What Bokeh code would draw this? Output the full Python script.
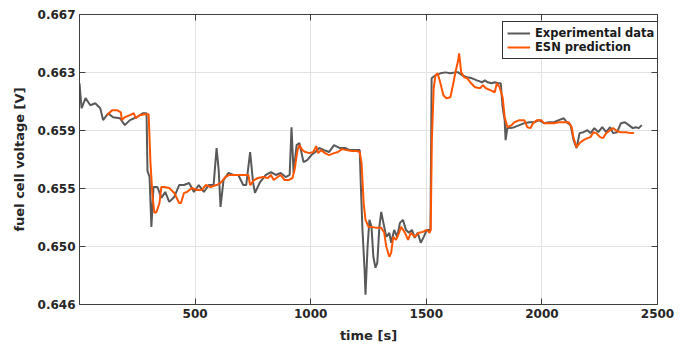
from bokeh.plotting import figure
from bokeh.models import (LinearAxis, FixedTicker, Legend, LegendItem, Range1d,
                          CustomLabelingPolicy)
from bokeh.embed import file_html
from bokeh.resources import INLINE

# ---- data ----
exp_t = [0, 9, 26, 47, 68, 90, 102, 124, 145, 175, 196, 218, 247, 273, 290,
         294, 303, 311, 320, 337, 354, 371, 388, 410, 431, 452, 474, 495, 516, 538,
         559, 580, 593, 602, 610, 623, 644, 666, 687, 708, 721, 738, 751, 759, 781,
         806, 828, 849, 870, 892, 909, 917, 926, 939, 951, 969, 985, 1003, 1020, 1037,
         1058, 1079, 1101, 1126, 1148, 1169, 1190, 1207, 1212, 1216, 1224, 1233, 1237, 1246, 1254,
         1263, 1271, 1280, 1288, 1297, 1305, 1318, 1327, 1340, 1348, 1361, 1374, 1386, 1399, 1412,
         1425, 1438, 1450, 1463, 1476, 1489, 1502, 1514, 1518, 1523, 1540, 1561, 1583, 1604, 1625,
         1638, 1655, 1677, 1698, 1719, 1741, 1753, 1766, 1783, 1796, 1809, 1822, 1830, 1839, 1843,
         1851, 1864, 1881, 1903, 1924, 1945, 1967, 1988, 2009, 2031, 2052, 2073, 2095, 2107, 2124,
         2137, 2150, 2163, 2180, 2197, 2210, 2227, 2244, 2261, 2278, 2295, 2308, 2325, 2342, 2359,
         2376, 2393, 2406, 2419, 2432]
exp_v = [0.66202, 0.66021, 0.66094, 0.66043, 0.66057, 0.66021, 0.65935, 0.65985, 0.65956, 0.65949,
         0.65899, 0.65935, 0.65956, 0.65985, 0.65985,
         0.65568, 0.65523, 0.65162, 0.65451, 0.65451, 0.65372, 0.65415, 0.65343, 0.65379, 0.65465,
         0.65465, 0.65480, 0.65415, 0.65465, 0.65415,
         0.65465, 0.65465, 0.65733, 0.65574, 0.65307, 0.65501, 0.65552, 0.65538, 0.65538, 0.65465,
         0.65465, 0.65704, 0.65480, 0.65408, 0.65487,
         0.65538, 0.65559, 0.65538, 0.65552, 0.65523, 0.65538, 0.65884, 0.65552, 0.65754, 0.65769,
         0.65631, 0.65646, 0.65682, 0.65704, 0.65733,
         0.65718, 0.65704, 0.65754, 0.65733, 0.65733, 0.65718, 0.65718, 0.65718, 0.65718, 0.65501,
         0.65140, 0.64852, 0.64671, 0.65018, 0.65213,
         0.65162, 0.64946, 0.64866, 0.64902, 0.65162, 0.65270, 0.65162, 0.65090, 0.65119, 0.65047,
         0.65140, 0.65090, 0.65191, 0.65213, 0.65140,
         0.65119, 0.65140, 0.65083, 0.65119, 0.65047, 0.65090, 0.65140, 0.65140, 0.65140, 0.66238,
         0.66260, 0.66274, 0.66281, 0.66274, 0.66281,
         0.66281, 0.66260, 0.66245, 0.66238, 0.66223, 0.66209, 0.66223, 0.66209, 0.66202, 0.66209,
         0.66202, 0.66202, 0.66029, 0.65935, 0.65790,
         0.65884, 0.65877, 0.65884, 0.65899, 0.65913, 0.65920, 0.65920, 0.65935, 0.65913, 0.65920,
         0.65920, 0.65935, 0.65949, 0.65920, 0.65899,
         0.65790, 0.65733, 0.65841, 0.65848, 0.65862, 0.65841, 0.65877, 0.65848, 0.65884, 0.65848,
         0.65884, 0.65841, 0.65848, 0.65913, 0.65920,
         0.65899, 0.65877, 0.65884, 0.65877, 0.65899]

esn_t = [119, 141, 162, 179, 183, 196, 218, 235, 243, 260, 282, 294, 299, 307, 316,
         324, 333, 346, 354, 367, 388, 410, 431, 439, 452, 465, 486, 508, 529, 546,
         567, 593, 610, 631, 648, 666, 700, 721, 730, 738, 755, 772, 794, 815, 828,
         840, 857, 870, 887, 904, 921, 930, 943, 951, 964, 977, 994, 1011, 1024, 1032,
         1045, 1062, 1079, 1101, 1118, 1135, 1156, 1177, 1199, 1212, 1220, 1229, 1237, 1250, 1263,
         1284, 1305, 1318, 1327, 1340, 1348, 1357, 1369, 1382, 1391, 1408, 1421, 1433, 1450, 1468,
         1485, 1502, 1514, 1519, 1524, 1532, 1540, 1549, 1561, 1574, 1587, 1604, 1617, 1625, 1638,
         1642, 1651, 1664, 1677, 1694, 1711, 1732, 1745, 1758, 1779, 1796, 1805, 1817, 1830, 1839,
         1851, 1869, 1881, 1903, 1924, 1937, 1950, 1962, 1979, 1997, 2009, 2031, 2052, 2073, 2095,
         2116, 2129, 2137, 2150, 2163, 2180, 2197, 2210, 2223, 2235, 2252, 2265, 2278, 2295, 2308,
         2325, 2342, 2363, 2385, 2398]
esn_v = [0.65971, 0.66007, 0.66007, 0.65992, 0.65935, 0.65956, 0.65971, 0.65985, 0.65949, 0.65971,
         0.65978, 0.65978, 0.65978, 0.65624, 0.65379,
         0.65263, 0.65270, 0.65335, 0.65451, 0.65451, 0.65444, 0.65408, 0.65335, 0.65335, 0.65408,
         0.65415, 0.65444, 0.65429, 0.65429, 0.65465,
         0.65451, 0.65465, 0.65480, 0.65523, 0.65538, 0.65538, 0.65538, 0.65538, 0.65538, 0.65465,
         0.65501, 0.65516, 0.65523, 0.65516, 0.65538,
         0.65501, 0.65523, 0.65538, 0.65501, 0.65501, 0.65516, 0.65574, 0.65718, 0.65754, 0.65718,
         0.65704, 0.65696, 0.65704, 0.65747, 0.65696,
         0.65718, 0.65696, 0.65682, 0.65696, 0.65704, 0.65725, 0.65718, 0.65711, 0.65711, 0.65704,
         0.65624, 0.65335, 0.65213, 0.65162, 0.65162,
         0.65155, 0.65155, 0.65119, 0.65018, 0.64946, 0.64974, 0.65090, 0.65068, 0.65119, 0.65162,
         0.65119, 0.65068, 0.65119, 0.65090, 0.65119,
         0.65126, 0.65140, 0.65119, 0.65140, 0.65790, 0.66166, 0.66260, 0.66274, 0.66202, 0.66115,
         0.66094, 0.66101, 0.66202, 0.66274, 0.66368,
         0.66418, 0.66281, 0.66245, 0.66238, 0.66202, 0.66173, 0.66166, 0.66187, 0.66166, 0.66151,
         0.66137, 0.66202, 0.66173, 0.66101, 0.65956,
         0.65884, 0.65899, 0.65920, 0.65935, 0.65935, 0.65884, 0.65877, 0.65913, 0.65935, 0.65935,
         0.65913, 0.65913, 0.65913, 0.65920, 0.65920,
         0.65920, 0.65884, 0.65805, 0.65740, 0.65769, 0.65790, 0.65805, 0.65812, 0.65848, 0.65841,
         0.65812, 0.65805, 0.65841, 0.65862, 0.65877,
         0.65855, 0.65848, 0.65848, 0.65841, 0.65841]

x_ticks = [500, 1000, 1500, 2000, 2500]
y_ticks = [0.646, 0.6502, 0.6544, 0.6586, 0.6628, 0.667]
y_tick_labels = ["0.646", "0.650", "0.655", "0.659", "0.663", "0.667"]

FONT = "DejaVu Sans"
TXT = "#262626"
AX = "#404040"

p = figure(width=688, height=345, output_backend="svg", toolbar_location=None,
           x_range=Range1d(0, 2500), y_range=Range1d(0.646, 0.667),
           min_border_left=79, min_border_right=23, min_border_top=14, min_border_bottom=40)
p.background_fill_color = "white"
p.border_fill_color = "white"
p.outline_line_color = AX
p.outline_line_width = 1

r1 = p.line(exp_t, exp_v, line_color="#595959", line_width=2.0)
r2 = p.line(esn_t, esn_v, line_color="#FF5500", line_width=2.0)

for ax in [p.xaxis[0], p.yaxis[0]]:
    ax.major_tick_in = 6
    ax.major_tick_out = 0
    ax.minor_tick_line_color = None
    ax.axis_line_color = AX
    ax.major_tick_line_color = AX
    ax.major_label_text_font = FONT
    ax.major_label_text_font_style = "bold"
    ax.major_label_text_font_size = "12px"
    ax.major_label_text_color = TXT
    ax.axis_label_text_font = FONT
    ax.axis_label_text_font_style = "bold"
    ax.axis_label_text_font_size = "13px"
    ax.axis_label_text_color = TXT

p.xaxis[0].ticker = FixedTicker(ticks=x_ticks)
p.yaxis[0].ticker = FixedTicker(ticks=y_ticks)
p.yaxis[0].major_label_overrides = {t: l for t, l in zip(y_ticks, y_tick_labels)}
p.xaxis[0].axis_label = "time [s]"
p.yaxis[0].axis_label = "fuel cell voltage [V]"
p.xaxis[0].major_label_standoff = 4
p.xaxis[0].axis_label_standoff = 7
p.yaxis[0].major_label_standoff = 4
p.yaxis[0].axis_label_standoff = 8

no_labels = "for (const i of indices) { indices.unset(i) }\nreturn indices"
top = LinearAxis(ticker=FixedTicker(ticks=x_ticks),
                 major_label_policy=CustomLabelingPolicy(code=no_labels),
                 major_tick_in=6, major_tick_out=0, minor_tick_line_color=None,
                 axis_line_color=AX, major_tick_line_color=AX, major_label_standoff=0)
right = LinearAxis(ticker=FixedTicker(ticks=y_ticks),
                   major_label_policy=CustomLabelingPolicy(code=no_labels),
                   major_tick_in=6, major_tick_out=0, minor_tick_line_color=None,
                   axis_line_color=AX, major_tick_line_color=AX, major_label_standoff=0)
p.add_layout(top, "above")
p.add_layout(right, "right")

p.xgrid.ticker = FixedTicker(ticks=x_ticks)
p.ygrid.ticker = FixedTicker(ticks=y_ticks)
p.grid.grid_line_color = "#e3e3e3"
p.grid.grid_line_width = 1

legend = Legend(items=[LegendItem(label="Experimental data", renderers=[r1]),
                       LegendItem(label="ESN prediction", renderers=[r2])],
                location=(423, 245))
legend.label_text_font = FONT
legend.label_text_font_style = "bold"
legend.label_text_font_size = "11.5px"
legend.label_text_color = "#1a1a1a"
legend.glyph_width = 23
legend.glyph_height = 14
legend.label_height = 14
legend.label_standoff = 5
legend.spacing = 0
legend.padding = 4
legend.margin = 0
legend.border_line_color = "#333333"
legend.border_line_width = 1
legend.border_line_alpha = 1
legend.background_fill_color = "white"
legend.background_fill_alpha = 1
p.add_layout(legend, "center")

open("out.html", "w").write(file_html(p, INLINE))
